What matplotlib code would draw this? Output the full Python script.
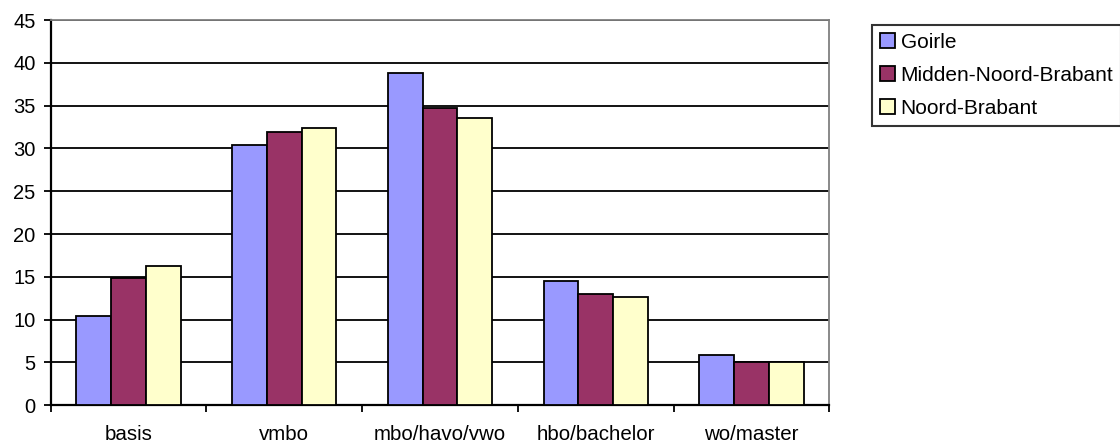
import matplotlib
matplotlib.use("Agg")
import matplotlib.pyplot as plt
import numpy as np
from matplotlib.ticker import FixedLocator

categories = ["basis", "vmbo", "mbo/havo/vwo", "hbo/bachelor", "wo/master"]
series_names = ["Goirle", "Midden-Noord-Brabant", "Noord-Brabant"]
goirle = [10.4, 30.4, 38.8, 14.5, 5.9]
midden = [14.9, 31.9, 34.7, 13.0, 5.1]
noord = [16.3, 32.4, 33.5, 12.6, 5.1]
colors = ["#9999FF", "#993366", "#FFFFCC"]
yticks = list(range(0, 46, 5))

plt.rcParams['font.family'] = ['Liberation Sans', 'DejaVu Sans']

fig = plt.figure(figsize=(11.2, 4.46), dpi=100)
ax = fig.add_axes([50.7/1120, 1-405.3/446, (829.3-50.7)/1120, (405.3-20)/446])

x = np.arange(len(categories))
w = 0.223
for i, (vals, name) in enumerate(zip([goirle, midden, noord], series_names)):
    ax.bar(x + (i-1)*w, vals, width=w, color=colors[i], edgecolor='black',
           linewidth=1.3, label=name, zorder=3)

ax.set_xlim(-0.5, len(categories)-0.5)
ax.set_ylim(0, 45)
ax.set_yticks(yticks)
ax.set_yticklabels([str(t) for t in yticks], fontsize=14.5)
ax.set_xticks(x)
ax.set_xticklabels(categories, fontsize=14.8)
ax.xaxis.set_minor_locator(FixedLocator(np.arange(-0.5, len(categories), 1.0)))
ax.tick_params(axis='x', which='major', length=0, pad=14)
ax.tick_params(axis='x', which='minor', length=5, width=1.3, color='black', direction='out')
ax.tick_params(axis='y', length=5, width=1.3, color='black', pad=6)

ax.set_axisbelow(True)
ax.yaxis.grid(True, color='black', linewidth=1.3)
for s in ['top', 'right']:
    ax.spines[s].set_color('#808080')
    ax.spines[s].set_linewidth(1.3)
for s in ['left', 'bottom']:
    ax.spines[s].set_color('black')
    ax.spines[s].set_linewidth(1.6)
ax.spines['top'].set_zorder(4)

leg = fig.legend(loc='upper left', bbox_to_anchor=(872/1120, 1-24.7/446),
                 fontsize=15, frameon=True, fancybox=False, shadow=False,
                 handlelength=0.7, handleheight=0.7, handletextpad=0.3,
                 labelspacing=0.68, borderpad=0.38, borderaxespad=0)
leg.get_frame().set_edgecolor('black')
leg.get_frame().set_linewidth(1.5)

fig.savefig("out.png", dpi=100)
